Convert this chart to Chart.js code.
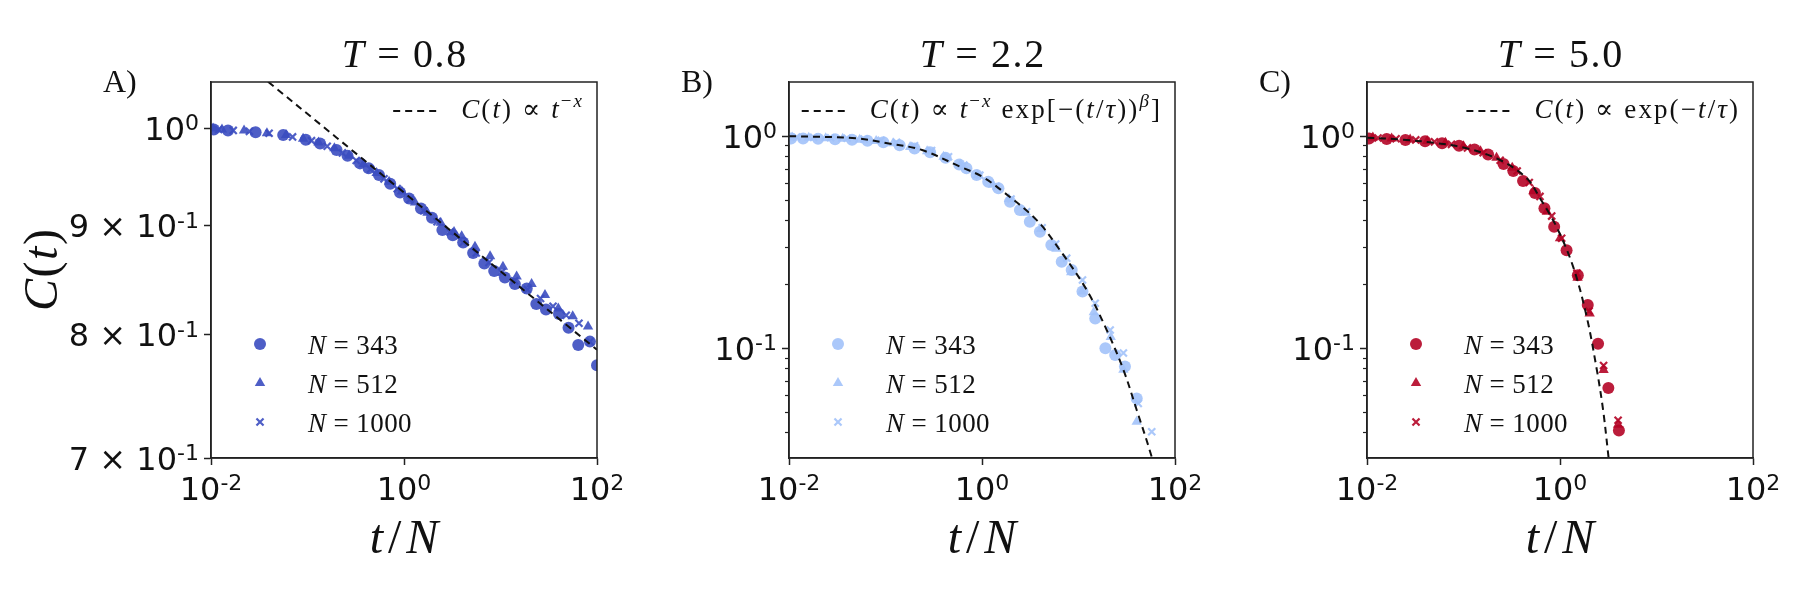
<!DOCTYPE html>
<html>
<head>
<meta charset="utf-8">
<title>C(t) vs t/N</title>
<script src="https://cdn.jsdelivr.net/npm/chart.js@4.4.1/dist/chart.umd.min.js"></script>
<style>
  body { margin: 0; background: #fff; }
  #figure { position: relative; width: 1800px; height: 600px; overflow: hidden; }
  #figure canvas { position: absolute; top: 0; }
</style>
</head>
<body>
<div id="figure">
  <canvas id="panelA" width="640" height="600" style="left:0"></canvas>
  <canvas id="panelB" width="640" height="600" style="left:600px"></canvas>
  <canvas id="panelC" width="600" height="600" style="left:1200px"></canvas>
</div>
<script>
// ---- labels ----
const seriesLabels = ['*N* = 343', '*N* = 512', '*N* = 1000'];
const panelTitles = ['*T* = 0.8', '*T* = 2.2', '*T* = 5.0'];
const panelTags = ['A)', 'B)', 'C)'];
const fitLabels = [
    '*C*(*t*) ∝ *t*^{−*x*}',
    '*C*(*t*) ∝ *t*^{−*x*} exp[−(*t*/*τ*))^{*β*}]',
    '*C*(*t*) ∝ exp(−*t*/*τ*)'
];
const xTitle = '*t*/*N*';
const yTitle = '*C*(*t*)';

// ---- ticks ----
const xTicks = [0.01, 1, 100];
const xTickLabels = ['10^{-2}', '10^{0}', '10^{2}'];
const yTicksA = [0.7, 0.8, 0.9, 1];
const yTickLabelsA = ['7 × 10^{-1}', '8 × 10^{-1}', '9 × 10^{-1}', '10^{0}'];
const yTicksBC = [0.1, 1];
const yTickLabelsBC = ['10^{-1}', '10^{0}'];
const yMinorBC = [0.04, 0.05, 0.06, 0.07, 0.08, 0.09, 0.2, 0.3, 0.4, 0.5, 0.6, 0.7, 0.8, 0.9];

// ---- panel A, T = 0.8 ----
const tA343 = [0.0107, 0.015, 0.029, 0.056, 0.096, 0.135, 0.20, 0.26, 0.35, 0.43, 0.55, 0.72, 0.91, 1.13, 1.5, 1.95, 2.5, 3.2, 4.1, 5.2, 6.8, 8.6, 11.1, 14.1, 18.7, 23.5, 29.6, 40.4, 50.7, 63.9, 84.5, 100];
const cA343 = [0.999, 0.998, 0.996, 0.993, 0.988, 0.984, 0.977, 0.971, 0.963, 0.958, 0.951, 0.942, 0.933, 0.927, 0.917, 0.908, 0.896, 0.891, 0.884, 0.874, 0.864, 0.857, 0.851, 0.845, 0.841, 0.827, 0.822, 0.818, 0.806, 0.791, 0.794, 0.774];
const tA512 = [0.0105, 0.013, 0.022, 0.038, 0.06, 0.09, 0.13, 0.19, 0.27, 0.38, 0.52, 0.7, 0.95, 1.3, 1.75, 2.4, 3.3, 3.96, 5.44, 7.8, 10.6, 14.7, 21.0, 28.9, 39.7, 56, 80.8];
const cA512 = [1.000, 0.999, 0.998, 0.995, 0.993, 0.989, 0.985, 0.979, 0.971, 0.962, 0.953, 0.944, 0.934, 0.923, 0.913, 0.903, 0.894, 0.890, 0.880, 0.871, 0.861, 0.852, 0.845, 0.835, 0.823, 0.816, 0.807];
const tA1000 = [0.012, 0.017, 0.025, 0.04, 0.07, 0.11, 0.16, 0.23, 0.32, 0.45, 0.62, 0.85, 1.15, 1.6, 2.2, 3.0, 4.1, 5.6, 7.6, 10.3, 14, 19, 26, 35, 48, 65, 84.6];
const cA1000 = [0.999, 0.998, 0.997, 0.995, 0.991, 0.987, 0.981, 0.974, 0.966, 0.957, 0.947, 0.937, 0.926, 0.915, 0.904, 0.894, 0.884, 0.874, 0.865, 0.856, 0.848, 0.840, 0.832, 0.825, 0.817, 0.810, 0.794];
const tAFit = [0.039, 1, 100];
const cAFit = [1.052, 0.933, 0.787];

// ---- panel B, T = 2.2 ----
const tB343 = [0.0105, 0.014, 0.02, 0.03, 0.045, 0.065, 0.095, 0.14, 0.2, 0.29, 0.42, 0.58, 0.69, 0.88, 1.16, 1.48, 1.95, 2.47, 3.13, 3.98, 5.23, 6.7, 8.5, 11.0, 14.9, 19.0, 24.0, 30.3, 40.1];
const cB343 = [0.975, 0.974, 0.972, 0.968, 0.962, 0.952, 0.935, 0.905, 0.875, 0.84, 0.79, 0.735, 0.706, 0.656, 0.610, 0.568, 0.491, 0.449, 0.395, 0.354, 0.307, 0.256, 0.234, 0.185, 0.138, 0.100, 0.093, 0.082, 0.058];
const tB512 = [0.0108, 0.016, 0.024, 0.036, 0.054, 0.08, 0.12, 0.18, 0.27, 0.4, 0.6, 0.9, 1.3, 1.9, 2.8, 4.1, 5.9, 8.4, 10.9, 14.4, 21.6, 29.2, 40.1];
const cB512 = [0.985, 0.982, 0.978, 0.972, 0.962, 0.948, 0.925, 0.89, 0.85, 0.80, 0.735, 0.655, 0.59, 0.505, 0.435, 0.365, 0.295, 0.228, 0.185, 0.148, 0.113, 0.0792, 0.0451];
const tB1000 = [0.012, 0.018, 0.027, 0.04, 0.06, 0.09, 0.13, 0.2, 0.3, 0.45, 0.65, 0.95, 1.4, 2.0, 2.9, 4.2, 5.8, 7.55, 11.0, 14.9, 21.3, 29.2, 41.6, 57.4];
const cB1000 = [0.99, 0.987, 0.983, 0.977, 0.968, 0.955, 0.935, 0.9, 0.855, 0.80, 0.73, 0.655, 0.58, 0.505, 0.44, 0.37, 0.31, 0.266, 0.210, 0.163, 0.122, 0.095, 0.055, 0.0404];
const tBFit = [0.01, 0.049, 0.108, 0.239, 0.592, 1.0, 1.66, 3.69, 6.43, 12.2, 19.6, 29.2, 40.1, 57.4, 65];
const cBFit = [1.0, 0.977, 0.924, 0.86, 0.718, 0.645, 0.547, 0.402, 0.290, 0.188, 0.122, 0.0792, 0.0512, 0.0307, 0.024];

// ---- panel C, T = 5.0 ----
const tC343 = [0.0105, 0.016, 0.025, 0.04, 0.06, 0.09, 0.13, 0.18, 0.26, 0.328, 0.414, 0.55, 0.69, 0.87, 1.17, 1.53, 1.94, 2.48, 3.17, 4.08];
const cC343 = [0.975, 0.97, 0.96, 0.945, 0.925, 0.9, 0.865, 0.82, 0.74, 0.685, 0.615, 0.54, 0.457, 0.374, 0.290, 0.221, 0.160, 0.105, 0.065, 0.041];
const tC512 = [0.0115, 0.018, 0.028, 0.042, 0.065, 0.1, 0.15, 0.22, 0.32, 0.53, 0.73, 1.0, 1.52, 2.03, 2.83, 4.0];
const cC512 = [0.985, 0.975, 0.965, 0.95, 0.93, 0.895, 0.85, 0.79, 0.71, 0.55, 0.44, 0.33, 0.215, 0.146, 0.079, 0.0436];
const tC1000 = [0.013, 0.02, 0.032, 0.05, 0.075, 0.11, 0.16, 0.24, 0.36, 0.48, 0.62, 0.82, 1.04, 1.5, 2.0, 2.83, 4.0];
const cC1000 = [0.98, 0.972, 0.96, 0.94, 0.915, 0.88, 0.835, 0.77, 0.685, 0.605, 0.52, 0.42, 0.33, 0.226, 0.15, 0.083, 0.0458];
const tCFit = [0.01, 0.022, 0.05, 0.108, 0.239, 0.453, 0.62, 0.92, 1.37, 1.89, 2.41, 2.8, 3.2];
const cCFit = [0.983, 0.965, 0.93, 0.877, 0.772, 0.633, 0.51, 0.374, 0.242, 0.141, 0.079, 0.051, 0.03];

const panelColors = ['rgba(59, 76, 192, 0.9)', 'rgba(162, 194, 250, 0.9)', 'rgba(180, 4, 38, 0.9)'];
const markerStyles = ['circle', 'triangle', 'crossRot'];

const MATH_FONT = "'Liberation Serif', 'DejaVu Serif', serif";
const TICK_FONT = "'DejaVu Sans', sans-serif";

// tiny markup: *...* italic, ^{...} superscript
function parseMath(s) {
    const parts = [];
    let it = false, sup = false, buf = '';
    const push = () => { if (buf) parts.push({ t: buf, it: it, sup: sup }); buf = ''; };
    for (let i = 0; i < s.length; i++) {
        const c = s[i];
        if (c === '*') { push(); it = !it; }
        else if (c === '^' && s[i + 1] === '{') { push(); sup = true; i++; }
        else if (c === '}' && sup) { push(); sup = false; }
        else buf += c;
    }
    push();
    return parts;
}

// draws the markup char by char; track = extra px after each char
function drawRich(ctx, s, x, y, o) {
    const size = o.size, family = o.family || MATH_FONT, track = o.track || 0;
    const raise = o.raise === undefined ? 0.42 : o.raise;
    const supScale = o.supScale || 0.7;
    const glyphs = [];
    parseMath(s).forEach(p => {
        const font = (p.it ? 'italic ' : '') + (p.sup ? Math.round(size * supScale) : size) + 'px ' + family;
        ctx.font = font;
        for (const ch of p.t) glyphs.push({ ch: ch, font: font, sup: p.sup, w: ctx.measureText(ch).width });
    });
    let w = 0;
    glyphs.forEach((g, i) => { w += g.w + (i < glyphs.length - 1 ? track : 0); });
    if (o.measureOnly) return w;
    let cx = o.align === 'center' ? x - w / 2 : o.align === 'right' ? x - w : x;
    ctx.textAlign = 'left';
    ctx.textBaseline = 'alphabetic';
    glyphs.forEach(g => {
        ctx.font = g.font;
        ctx.fillText(g.ch, cx, g.sup ? y - size * raise : y);
        cx += g.w + track;
    });
    return w;
}

function drawMarker(ctx, style, x, y, r, color) {
    ctx.fillStyle = color;
    ctx.strokeStyle = color;
    ctx.lineWidth = 2.2;
    Chart.helpers.drawPoint(ctx, { pointStyle: style, radius: r, rotation: 0, borderWidth: style === 'crossRot' ? 2.2 : 0 }, x, y);
}

// frame, tick labels, titles, panel tag and the two legends
const figureText = {
    id: 'figureText',
    afterDraw(chart, args, opts) {
        const ctx = chart.ctx;
        const a = chart.chartArea;
        ctx.save();
        ctx.strokeStyle = '#222';
        ctx.lineWidth = 1.5;
        ctx.strokeRect(a.left, a.top, a.right - a.left, a.bottom - a.top);

        // tick labels at the library's tick positions
        ctx.fillStyle = '#111';
        const tickText = { size: 32, family: TICK_FONT, raise: 0.3, supScale: 0.7 };
        chart.scales.x.ticks.forEach(t => {
            const k = xTicks.indexOf(t.value);
            if (k < 0) return;
            drawRich(ctx, xTickLabels[k], chart.scales.x.getPixelForValue(t.value), 500,
                Object.assign({ align: 'center' }, tickText));
        });
        chart.scales.y.ticks.forEach(t => {
            const k = opts.yTicks.indexOf(t.value);
            if (k < 0) return;
            drawRich(ctx, opts.yLabels[k], a.left - 12, chart.scales.y.getPixelForValue(t.value) + 11.5,
                Object.assign({ align: 'right' }, tickText));
        });

        const cx = (a.left + a.right) / 2;
        drawRich(ctx, opts.title, cx, 67, { size: 40, align: 'center', track: 1.6 });
        ctx.font = '32px ' + MATH_FONT;
        ctx.textAlign = 'left';
        ctx.fillText(opts.tag, a.left - 108, 92);
        drawRich(ctx, xTitle, cx, 553, { size: 48, align: 'center', track: 5 });
        if (opts.showYTitle) {
            ctx.save();
            ctx.translate(57, (a.top + a.bottom) / 2);
            ctx.rotate(-Math.PI / 2);
            drawRich(ctx, yTitle, 0, 0, { size: 48, align: 'center', track: 1.5 });
            ctx.restore();
        }

        // fit legend, top right
        const fitOpt = { size: 27, track: 2.1 };
        const fitW = drawRich(ctx, opts.fitLabel, 0, 0, Object.assign({ measureOnly: true }, fitOpt));
        const textX = a.right - 15 - fitW;
        drawRich(ctx, opts.fitLabel, textX, a.top + 36, fitOpt);
        ctx.strokeStyle = '#111';
        ctx.lineWidth = 2;
        ctx.setLineDash([7, 5]);
        ctx.beginPath();
        ctx.moveTo(textX - 68, a.top + 29);
        ctx.lineTo(textX - 20, a.top + 29);
        ctx.stroke();
        ctx.setLineDash([]);

        // series legend, lower left
        const rows = [344, 383, 422];
        chart.data.datasets.filter(d => d.isSeries).forEach((d, i) => {
            drawMarker(ctx, d.pointStyle, a.left + 49, rows[i], d.pointRadius, d.backgroundColor);
            ctx.fillStyle = '#111';
            drawRich(ctx, d.label, a.left + 97, rows[i] + 10, { size: 27, track: 0.4 });
        });
        ctx.restore();
    }
};

function seriesSet(label, t, c, style, color) {
    return {
        label: label,
        isSeries: true,
        data: t.map((v, i) => ({ x: v, y: c[i] })),
        pointStyle: style,
        pointRadius: style === 'crossRot' ? 5 : 6,
        pointBorderWidth: style === 'crossRot' ? 2.2 : 0,
        backgroundColor: color,
        borderColor: color,
        showLine: false,
        clip: 0,
        order: 1
    };
}

function fitSet(t, c) {
    return {
        label: 'fit',
        data: t.map((v, i) => ({ x: v, y: c[i] })),
        showLine: true,
        pointRadius: 0,
        borderColor: '#111',
        borderWidth: 2,
        borderDash: [7, 5],
        tension: 0.35,
        fill: false,
        clip: 0,
        order: 0
    };
}

function makePanel(id, idx, series, fit, yRange, yTicks, yLabels, yMinor, yWidth, rightPad) {
    const color = panelColors[idx];
    const datasets = series.map((s, i) => seriesSet(seriesLabels[i], s[0], s[1], markerStyles[i], color));
    datasets.push(fitSet(fit[0], fit[1]));

    const scales = {
        x: {
            type: 'logarithmic',
            position: 'bottom',
            min: 0.01,
            max: 100,
            afterBuildTicks: (axis) => { axis.ticks = xTicks.map(v => ({ value: v })); },
            afterFit: (axis) => { axis.height = 70; },
            ticks: { display: false },
            grid: { drawOnChartArea: false, tickLength: 7, tickWidth: 1.5, tickColor: '#222' },
            border: { color: '#222', width: 1.5 }
        },
        y: {
            type: 'logarithmic',
            position: 'left',
            weight: 1,
            min: yRange[0],
            max: yRange[1],
            afterBuildTicks: (axis) => { axis.ticks = yTicks.map(v => ({ value: v })); },
            afterFit: (axis) => { axis.width = yWidth; },
            ticks: { display: false },
            grid: { drawOnChartArea: false, tickLength: 7, tickWidth: 1.5, tickColor: '#222' },
            border: { color: '#222', width: 1.5 }
        }
    };
    if (yMinor) {
        scales.yMinor = {
            type: 'logarithmic',
            position: 'left',
            weight: 0,
            min: yRange[0],
            max: yRange[1],
            afterBuildTicks: (axis) => { axis.ticks = yMinor.map(v => ({ value: v })); },
            afterFit: (axis) => { axis.width = 0; },
            ticks: { display: false },
            grid: { drawOnChartArea: false, tickLength: 4, tickWidth: 1.2, tickColor: '#222' },
            border: { display: false }
        };
    }

    return new Chart(document.getElementById(id), {
        type: 'scatter',
        data: { datasets: datasets },
        options: {
            responsive: false,
            animation: false,
            devicePixelRatio: 1,
            events: [],
            layout: {
                autoPadding: false,
                padding: { left: 0, right: rightPad, top: 82, bottom: 72 }
            },
            scales: scales,
            plugins: {
                legend: { display: false },
                tooltip: { enabled: false },
                figureText: {
                    title: panelTitles[idx],
                    tag: panelTags[idx],
                    fitLabel: fitLabels[idx],
                    showYTitle: idx === 0,
                    yTicks: yTicks,
                    yLabels: yLabels
                }
            }
        },
        plugins: [figureText]
    });
}

makePanel('panelA', 0, [[tA343, cA343], [tA512, cA512], [tA1000, cA1000]], [tAFit, cAFit],
    [0.7, 1.0517], yTicksA, yTickLabelsA, null, 211, 43);
makePanel('panelB', 1, [[tB343, cB343], [tB512, cB512], [tB1000, cB1000]], [tBFit, cBFit],
    [0.0304, 1.8], yTicksBC, yTickLabelsBC, yMinorBC, 189, 65);
makePanel('panelC', 2, [[tC343, cC343], [tC512, cC512], [tC1000, cC1000]], [tCFit, cCFit],
    [0.0304, 1.8], yTicksBC, yTickLabelsBC, yMinorBC, 167, 47);
</script>
</body>
</html>
